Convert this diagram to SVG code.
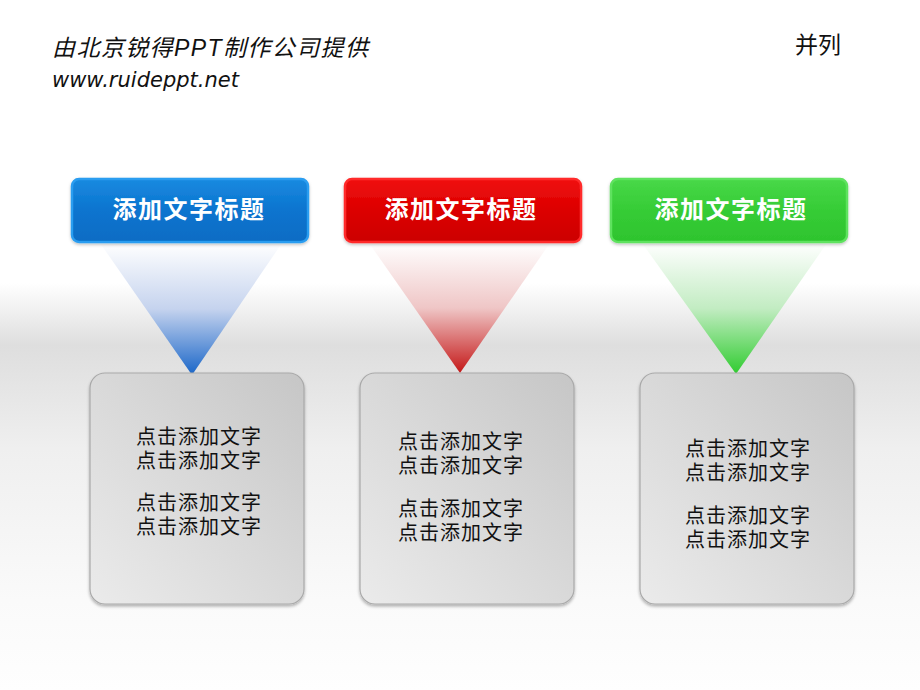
<svg xmlns="http://www.w3.org/2000/svg" width="920" height="690" viewBox="0 0 920 690">
<defs>
<linearGradient id="bg" x1="0" y1="0" x2="0" y2="1">
<stop offset="0" stop-color="#ffffff"/>
<stop offset="0.41" stop-color="#ffffff"/>
<stop offset="0.5" stop-color="#dedede"/>
<stop offset="0.65" stop-color="#efefef"/>
<stop offset="0.87" stop-color="#fafafa"/>
<stop offset="1" stop-color="#fefefe"/>
</linearGradient>
<linearGradient id="bodyG" x1="1" y1="0" x2="0" y2="1">
<stop offset="0" stop-color="#c6c6c6"/>
<stop offset="0.5" stop-color="#d9d9d9"/>
<stop offset="1" stop-color="#ebebeb"/>
</linearGradient>
<linearGradient id="triB" x1="0" y1="0" x2="0" y2="1">
<stop offset="0" stop-color="#ffffff"/>
<stop offset="0.5" stop-color="#c5d3ee"/>
<stop offset="1" stop-color="#1a66c8"/>
</linearGradient>
<linearGradient id="triR" x1="0" y1="0" x2="0" y2="1">
<stop offset="0" stop-color="#ffffff"/>
<stop offset="0.5" stop-color="#efc6c6"/>
<stop offset="1" stop-color="#c41818"/>
</linearGradient>
<linearGradient id="triG" x1="0" y1="0" x2="0" y2="1">
<stop offset="0" stop-color="#ffffff"/>
<stop offset="0.5" stop-color="#c2ecc2"/>
<stop offset="1" stop-color="#30cc30"/>
</linearGradient>
<linearGradient id="hB" x1="0" y1="0" x2="0" y2="1">
<stop offset="0" stop-color="#1a8ae0"/>
<stop offset="0.5" stop-color="#0a74cf"/>
<stop offset="1" stop-color="#0a6cc4"/>
</linearGradient>
<linearGradient id="hR" x1="0" y1="0" x2="0" y2="1">
<stop offset="0" stop-color="#f01010"/>
<stop offset="0.5" stop-color="#dc0000"/>
<stop offset="1" stop-color="#cc0000"/>
</linearGradient>
<linearGradient id="hG" x1="0" y1="0" x2="0" y2="1">
<stop offset="0" stop-color="#48d848"/>
<stop offset="0.5" stop-color="#36cc36"/>
<stop offset="1" stop-color="#2ec42e"/>
</linearGradient>
<filter id="sh" x="-10%" y="-10%" width="120%" height="120%">
<feDropShadow dx="0" dy="2" stdDeviation="1.5" flood-color="#000" flood-opacity="0.3"/>
</filter>
<filter id="sh2" x="-10%" y="-10%" width="120%" height="130%">
<feDropShadow dx="0" dy="1.5" stdDeviation="1.5" flood-color="#000" flood-opacity="0.25"/>
</filter>
</defs>
<style>
.body{fill:url(#bodyG);stroke:#a9a9a9;stroke-width:1.2}
.bt{font-family:"Noto Sans CJK SC","Noto Sans CJK JP",sans-serif;font-size:20px;letter-spacing:1px;fill:#111;text-anchor:middle}
.ht{font-family:"Noto Sans CJK SC","Noto Sans CJK JP",sans-serif;font-size:24px;letter-spacing:1.5px;font-weight:bold;fill:#fff;text-anchor:middle}
.hdr{stroke-width:2.5}
</style>
<rect x="0" y="0" width="920" height="690" fill="url(#bg)"/>

<text x="52" y="56" font-family="'Liberation Sans','Noto Sans CJK SC',sans-serif" font-size="23" letter-spacing="1.4" font-style="italic" fill="#111">由北京锐得PPT制作公司提供</text>
<text x="52" y="87" font-family="'DejaVu Sans',sans-serif" font-size="21" font-style="italic" fill="#111">www.ruideppt.net</text>
<text x="795" y="53" font-family="'Noto Sans CJK SC',sans-serif" font-size="23" fill="#111">并列</text>

<g id="triangles">
<polygon points="100,243 282,243 192,375" fill="url(#triB)"/>
<polygon points="369,243 550,243 460,373" fill="url(#triR)"/>
<polygon points="642,243 827,243 736,374" fill="url(#triG)"/>
</g>

<g id="node-blue-header">
<rect x="72" y="179" width="236" height="63" rx="7" fill="url(#hB)" stroke="#2b9df0" class="hdr" filter="url(#sh2)"/>
<text x="189" y="218" class="ht">添加文字标题</text>
</g>
<g id="node-red-header">
<rect x="345" y="179" width="236" height="63" rx="7" fill="url(#hR)" stroke="#ff2a2a" class="hdr" filter="url(#sh2)"/>
<text x="461" y="218" class="ht">添加文字标题</text>
</g>
<g id="node-green-header">
<rect x="611" y="179" width="236" height="63" rx="7" fill="url(#hG)" stroke="#5ee25e" class="hdr" filter="url(#sh2)"/>
<text x="731" y="218" class="ht">添加文字标题</text>
</g>

<g id="node-blue-body">
<rect x="90" y="373" width="214" height="231" rx="15" class="body" filter="url(#sh)"/>
<text class="bt"><tspan x="199" y="444">点击添加文字</tspan><tspan x="199" y="468">点击添加文字</tspan></text>
<text class="bt"><tspan x="199" y="510">点击添加文字</tspan><tspan x="199" y="534">点击添加文字</tspan></text>
</g>
<g id="node-red-body">
<rect x="360" y="373" width="214" height="231" rx="15" class="body" filter="url(#sh)"/>
<text class="bt"><tspan x="461" y="449">点击添加文字</tspan><tspan x="461" y="473">点击添加文字</tspan></text>
<text class="bt"><tspan x="461" y="516">点击添加文字</tspan><tspan x="461" y="540">点击添加文字</tspan></text>
</g>
<g id="node-green-body">
<rect x="640" y="373" width="214" height="231" rx="15" class="body" filter="url(#sh)"/>
<text class="bt"><tspan x="748" y="456">点击添加文字</tspan><tspan x="748" y="480">点击添加文字</tspan></text>
<text class="bt"><tspan x="748" y="523">点击添加文字</tspan><tspan x="748" y="547">点击添加文字</tspan></text>
</g>
</svg>
